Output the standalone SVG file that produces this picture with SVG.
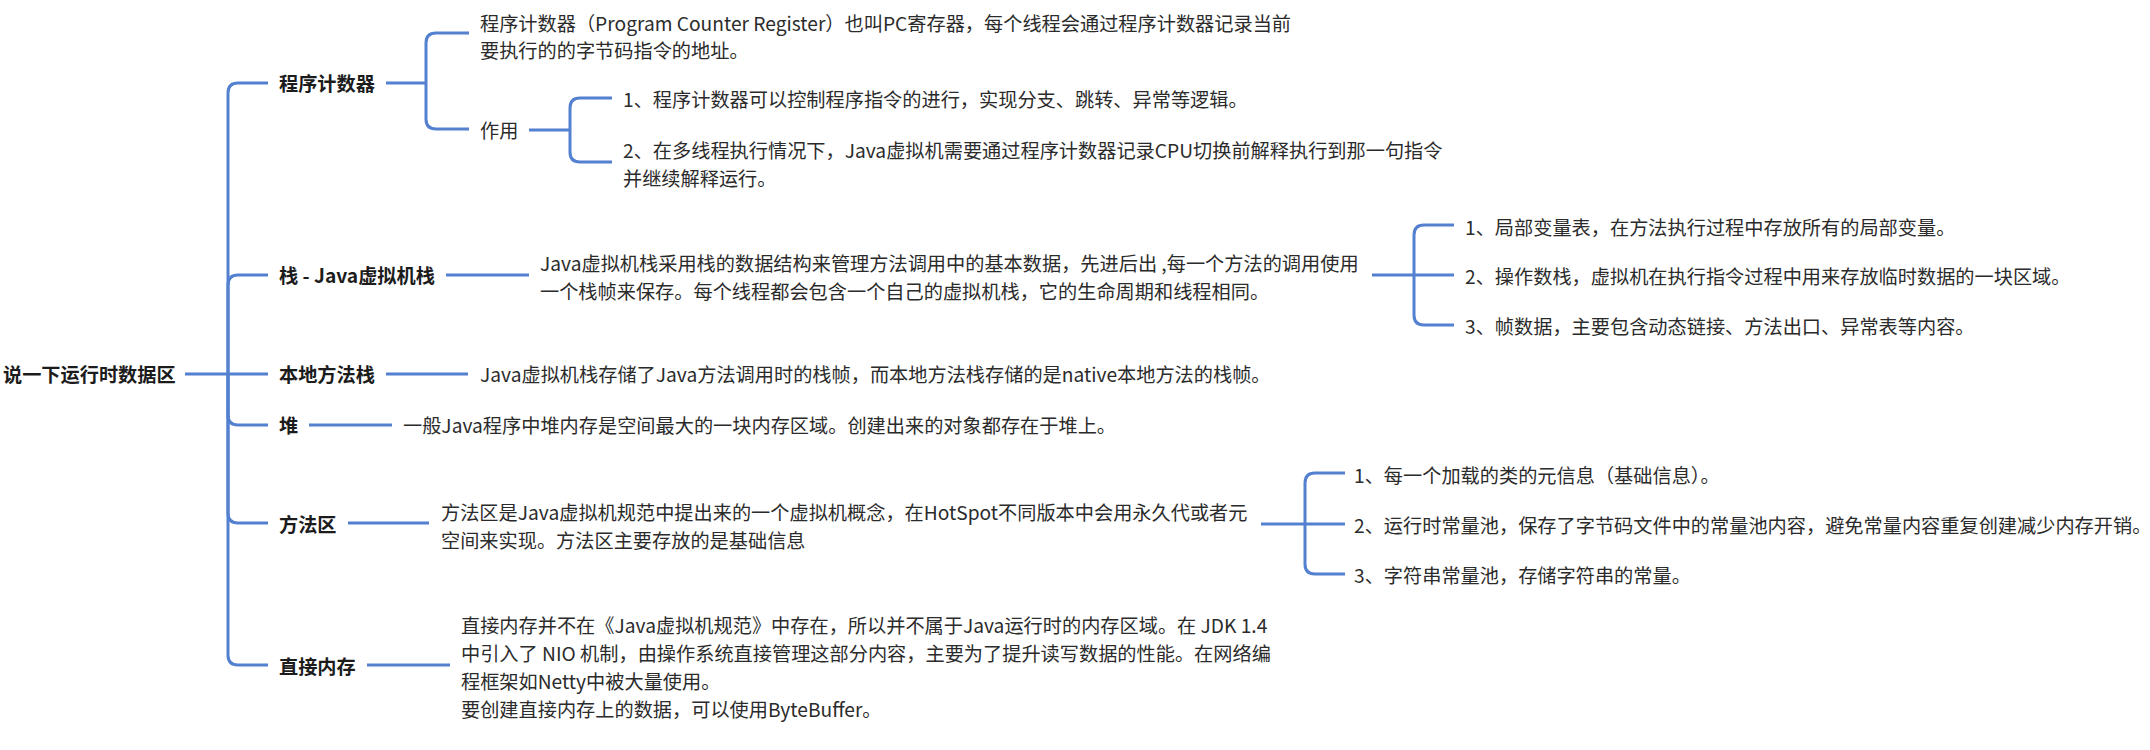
<svg xmlns="http://www.w3.org/2000/svg" width="2150" height="750" viewBox="0 0 2150 750">
<style>
text{font-family:"Noto Sans CJK SC","Noto Sans",sans-serif;font-size:19.2px;fill:#2b2b2b;dominant-baseline:central}
.b{font-weight:bold;fill:#1c1c1c}
.c{fill:none;stroke:#5480d0;stroke-width:3;stroke-linecap:butt}
</style>
<rect width="2150" height="750" fill="#ffffff"/>
<g id="connectors" class="c">
<path d="M185,374 H268"/>
<path d="M228,374 V93 Q228,83 238,83 H268"/>
<path d="M228,374 V285 Q228,275 238,275 H268"/>
<path d="M228,374 V415 Q228,425 238,425 H268"/>
<path d="M228,374 V513 Q228,523 238,523 H268"/>
<path d="M228,374 V655 Q228,665 238,665 H268"/>
<path d="M386,83 H426"/>
<path d="M426,83 V43 Q426,33 436,33 H469"/>
<path d="M426,83 V119 Q426,129 436,129 H469"/>
<path d="M529,130 H570"/>
<path d="M570,130 V108 Q570,98 580,98 H612"/>
<path d="M570,130 V152 Q570,162 580,162 H612"/>
<path d="M446,275 H529"/>
<path d="M1372,275 H1454"/>
<path d="M1414,275 V235 Q1414,225 1424,225 H1454"/>
<path d="M1414,275 V315 Q1414,325 1424,325 H1454"/>
<path d="M386,374 H468"/>
<path d="M309,425 H392"/>
<path d="M348,523 H429"/>
<path d="M1261,524 H1345"/>
<path d="M1305,524 V483 Q1305,473 1315,473 H1345"/>
<path d="M1305,524 V564 Q1305,574 1315,574 H1345"/>
<path d="M367,665 H450"/>
</g>
<g id="root"><text class="b" x="3" y="374">说一下运行时数据区</text></g>
<g id="pc"><text class="b" x="279" y="83">程序计数器</text></g>
<g id="pc-desc"><text x="480" y="23">程序计数器（Program Counter Register）也叫PC寄存器，每个线程会通过程序计数器记录当前</text><text x="480" y="50">要执行的的字节码指令的地址。</text></g>
<g id="pc-use"><text x="480" y="130">作用</text></g>
<g id="pc-use-1"><text x="623" y="99">1、程序计数器可以控制程序指令的进行，实现分支、跳转、异常等逻辑。</text></g>
<g id="pc-use-2"><text x="623" y="150">2、在多线程执行情况下，Java虚拟机需要通过程序计数器记录CPU切换前解释执行到那一句指令</text><text x="623" y="178">并继续解释运行。</text></g>
<g id="stack"><text class="b" x="279" y="275">栈 - Java虚拟机栈</text></g>
<g id="stack-desc"><text x="540" y="263">Java虚拟机栈采用栈的数据结构来管理方法调用中的基本数据，先进后出 ,每一个方法的调用使用</text><text x="540" y="291">一个栈帧来保存。每个线程都会包含一个自己的虚拟机栈，它的生命周期和线程相同。</text></g>
<g id="stack-1"><text x="1465" y="227">1、局部变量表，在方法执行过程中存放所有的局部变量。</text></g>
<g id="stack-2"><text x="1465" y="276">2、操作数栈，虚拟机在执行指令过程中用来存放临时数据的一块区域。</text></g>
<g id="stack-3"><text x="1465" y="326">3、帧数据，主要包含动态链接、方法出口、异常表等内容。</text></g>
<g id="native"><text class="b" x="279" y="374">本地方法栈</text></g>
<g id="native-desc"><text x="480" y="374">Java虚拟机栈存储了Java方法调用时的栈帧，而本地方法栈存储的是native本地方法的栈帧。</text></g>
<g id="heap"><text class="b" x="279" y="425">堆</text></g>
<g id="heap-desc"><text x="403" y="425">一般Java程序中堆内存是空间最大的一块内存区域。创建出来的对象都存在于堆上。</text></g>
<g id="method"><text class="b" x="279" y="524">方法区</text></g>
<g id="method-desc"><text x="441" y="512">方法区是Java虚拟机规范中提出来的一个虚拟机概念，在HotSpot不同版本中会用永久代或者元</text><text x="441" y="540">空间来实现。方法区主要存放的是基础信息</text></g>
<g id="method-1"><text x="1354" y="475">1、每一个加载的类的元信息（基础信息）。</text></g>
<g id="method-2"><text x="1354" y="525">2、运行时常量池，保存了字节码文件中的常量池内容，避免常量内容重复创建减少内存开销。</text></g>
<g id="method-3"><text x="1354" y="575">3、字符串常量池，存储字符串的常量。</text></g>
<g id="direct"><text class="b" x="279" y="666">直接内存</text></g>
<g id="direct-desc"><text x="461" y="625">直接内存并不在《Java虚拟机规范》中存在，所以并不属于Java运行时的内存区域。在 JDK 1.4</text><text x="461" y="653">中引入了 NIO 机制，由操作系统直接管理这部分内容，主要为了提升读写数据的性能。在网络编</text><text x="461" y="681">程框架如Netty中被大量使用。</text><text x="461" y="709">要创建直接内存上的数据，可以使用ByteBuffer。</text></g>
</svg>
